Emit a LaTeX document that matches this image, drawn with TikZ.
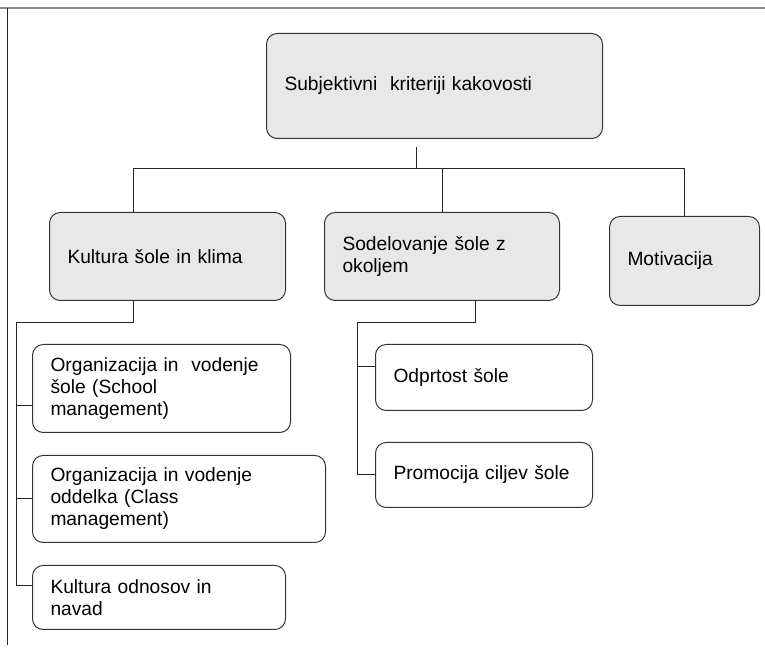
\documentclass[tikz,border=0pt]{standalone}
\usepackage{fontspec}
\setmainfont{Liberation Sans}
\usepackage{tikz}
\tikzset{
	head/.style={draw=black!80, fill=black!9, rounded corners=8pt, line width=0.75pt, anchor=north west, align=left, inner xsep=13.5pt, inner ysep=0pt, font=\fontsize{14.4}{16.5}\selectfont},
	item/.style={head, fill=white},
	link/.style={black!85, line width=0.75pt},
}

\begin{document}
\begin{tikzpicture}[x=0.75pt, y=-0.75pt]
	\useasboundingbox (0,0) rectangle (765,648);
	\draw[black!45, line width=1.5pt] (0,8) -- (765,8);
	\draw[black!85, line width=0.75pt] (7,8) -- (7,645);
	\node[head, text width=225pt, minimum height=78.75pt] (0) at (266,33) {Subjektivni\ \ kriteriji kakovosti};
	\node[head, text width=150pt, minimum height=66pt] (1) at (49,212) {Kultura šole in klima};
	\node[head, text width=149.25pt, minimum height=66pt] (2) at (324,212) {Sodelovanje šole z\\okoljem};
	\node[head, text width=85.5pt, minimum height=66.75pt] (3) at (609,216) {Motivacija};
	\node[item, text width=166.5pt, minimum height=66pt] (4) at (32,344) {Organizacija in\ \ vodenje\\šole (School\\management)};
	\node[item, text width=192.75pt, minimum height=65.25pt] (5) at (32,455) {Organizacija in vodenje\\oddelka (Class\\management)};
	\node[item, text width=162.75pt, minimum height=48pt] (6) at (32,565) {Kultura odnosov in\\navad};
	\node[item, text width=135.75pt, minimum height=49.5pt] (7) at (375,344) {Odprtost šole};
	\node[item, text width=135.75pt, minimum height=48.75pt] (8) at (375,442) {Promocija ciljev šole};
	\coordinate (bus) at ([shift={(-18,30)}]0.south);
	\coordinate (j1) at (16,323);
	\coordinate (j2) at (357,323);
	\draw[link] ([shift={(-18,8)}]0.south) -- (bus);
	\draw[link] ([shift={(-34,0)}]1.north) |- (3.north |- bus) -- (3.north);
	\draw[link] (2.north) -- (2.north |- bus);
	\draw[link] ([shift={(-34,0)}]1.south) |- (j1) |- ([shift={(0,-12)}]6.west);
	\draw[link] ([shift={(0,17)}]4.west) -| (j1);
	\draw[link] (5.west) -| (j1);
	\draw[link] ([shift={(33,0)}]2.south) |- (j2) |- (8.west);
	\draw[link] ([shift={(0,-11)}]7.west) -| (j2);
\end{tikzpicture}
\end{document}
